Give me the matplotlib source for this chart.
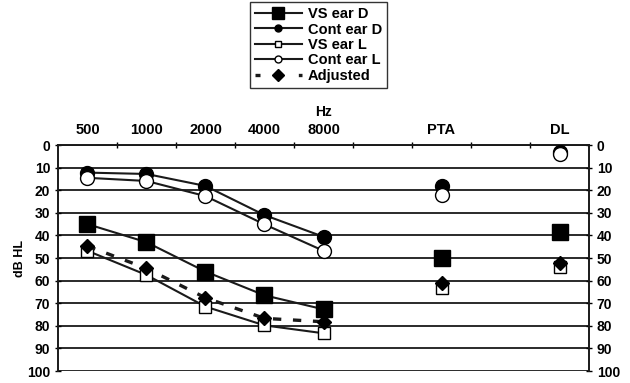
import matplotlib
matplotlib.use("Agg")
import matplotlib.pyplot as plt
from matplotlib.lines import Line2D
import numpy as np

plt.rcParams['font.family'] = ['Liberation Sans', 'DejaVu Sans']

categories = ["500", "1000", "2000", "4000", "8000", "", "PTA", "", "DL"]
freq_idx = [0, 1, 2, 3, 4]
summary_idx = [6, 8]

vs_ear_d = [35, 43, 56, 66.5, 72.7]
vs_ear_d_sum = [50, 38.3]
cont_ear_d = [12.2, 12.8, 18.1, 31, 40.6]
cont_ear_d_sum = [18.2, 3]
vs_ear_l = [46.8, 57.5, 71.5, 79.8, 83.3]
vs_ear_l_sum = [63.4, 53.8]
cont_ear_l = [14.5, 15.9, 22.6, 35.1, 46.8]
cont_ear_l_sum = [22.1, 3.8]
adjusted = [44.7, 54.6, 67.6, 76.7, 78.2]
adjusted_sum = [60.9, 52.4]

yticks = [0, 10, 20, 30, 40, 50, 60, 70, 80, 90, 100]

fig = plt.figure(figsize=(6.3, 3.83), dpi=100)
ax = fig.add_axes([0.092, 0.0313, 0.843, 0.590])

lc = '#1a1a1a'
for y in yticks:
    ax.axhline(y, color='#2a2a2a', lw=1.4, zorder=1)

# series
ax.plot(freq_idx, adjusted, ls=(0, (2.5, 3.5)), color=lc, lw=2.4, marker='D', ms=7,
        mfc='black', mec='black', zorder=3)
ax.plot(summary_idx, adjusted_sum, ls='none', marker='D', ms=7, mfc='black', mec='black', zorder=3)

ax.plot(freq_idx, vs_ear_l, color=lc, lw=1.5, marker='s', ms=9, mfc='white', mec='black', mew=1.0, zorder=2)
ax.plot(summary_idx, vs_ear_l_sum, ls='none', marker='s', ms=9, mfc='white', mec='black', mew=1.0, zorder=2)

ax.plot(freq_idx, vs_ear_d, color=lc, lw=1.5, marker='s', ms=12, mfc='black', mec='black', zorder=4)
ax.plot(summary_idx, vs_ear_d_sum, ls='none', marker='s', ms=12, mfc='black', mec='black', zorder=4)

ax.plot(freq_idx, cont_ear_d, color=lc, lw=1.5, marker='o', ms=10, mfc='black', mec='black', zorder=4)
ax.plot(summary_idx, cont_ear_d_sum, ls='none', marker='o', ms=10, mfc='black', mec='black', zorder=4)

ax.plot(freq_idx, cont_ear_l, color=lc, lw=1.5, marker='o', ms=10, mfc='white', mec='black', mew=1.0, zorder=5)
ax.plot(summary_idx, cont_ear_l_sum, ls='none', marker='o', ms=10, mfc='white', mec='black', mew=1.0, zorder=5)

ax.set_xlim(-0.5, 8.5)
ax.set_ylim(100, 0)

# top category axis
ax.xaxis.tick_top()
ax.set_xticks(range(len(categories)))
ax.set_xticklabels(categories, fontsize=10.5, fontweight='bold')
ax.set_xticks(np.arange(0.5, 8.5, 1), minor=True)
ax.tick_params(axis='x', which='major', length=0, pad=6)
ax.tick_params(axis='x', which='minor', length=5, direction='inout', width=1)
ax.text(4, 1.148, "Hz", transform=ax.get_xaxis_transform(), ha='center', va='center',
        fontsize=10, fontweight='bold')

ax.set_yticks(yticks)
ax.tick_params(axis='y', which='major', length=5, direction='inout', width=1,
               labelsize=10, left=True, right=True, labelleft=True, labelright=True, pad=3)
ax.set_yticklabels([str(v) for v in yticks])
for lbl in ax.yaxis.get_ticklabels(which='major'):
    lbl.set_fontweight('bold')
ax.set_ylabel("dB HL", fontsize=9, fontweight='bold', labelpad=1)

for s in ['left', 'right', 'top']:
    ax.spines[s].set_linewidth(1.4)
    ax.spines[s].set_color('#1a1a1a')
ax.spines['bottom'].set_visible(False)

handles = [
    Line2D([], [], color=lc, lw=1.5, marker='s', ms=8, mfc='black', mec='black'),
    Line2D([], [], color=lc, lw=1.5, marker='o', ms=5, mfc='black', mec='black'),
    Line2D([], [], color=lc, lw=1.5, marker='s', ms=5, mfc='white', mec='black'),
    Line2D([], [], color=lc, lw=1.5, marker='o', ms=5, mfc='white', mec='black'),
    Line2D([], [], color=lc, lw=2.4, ls=(0, (1.5, 5.0)), marker='D', ms=6, mfc='black', mec='black'),
]
labels = ["VS ear D", "Cont ear D", "VS ear L", "Cont ear L", "Adjusted"]
leg = fig.legend(handles, labels, loc='upper left', bbox_to_anchor=(250/630, 1 - 2/383),
                 frameon=True, fancybox=False, edgecolor='black', fontsize=10.5,
                 handlelength=3.2, handletextpad=0.4, borderpad=0.35, labelspacing=0.1,
                 borderaxespad=0)
leg.get_frame().set_linewidth(1.0)
for t in leg.get_texts():
    t.set_fontweight('bold')

fig.savefig("out.png", dpi=100)
